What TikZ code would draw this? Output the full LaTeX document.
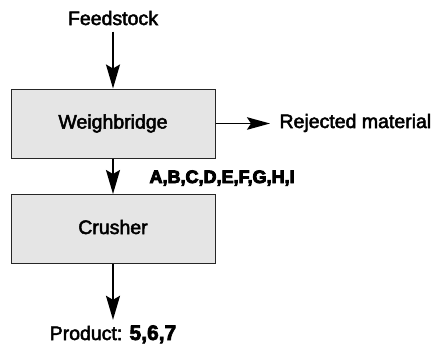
\documentclass[tikz,border=0pt]{standalone}
\usepackage{fontspec}
\setmainfont{Liberation Sans}
\usetikzlibrary{arrows.meta}
\definecolor{boxgray}{HTML}{E5E5E5}
% thicken glyphs by filling and stroking them
\newcommand{\thick}[2]{\special{pdf:code 2 Tr #1 w}#2\special{pdf:code 0 Tr 1 w}}
\begin{document}
\begin{tikzpicture}[x=1pt,y=-1pt,
  every node/.style={font=\fontsize{19.5}{23}\selectfont},
  unit/.style={draw=black!85,line width=1pt,fill=boxgray,minimum width=204pt,minimum height=69pt,inner sep=0pt,text height=14pt,text depth=4pt},
  flow/.style={line width=1.8pt,-{Stealth[length=24pt,width=14pt,inset=4pt]}},
  side/.style={line width=1.5pt,-{Stealth[length=23pt,width=12.5pt,inset=4pt]}},
  tag/.style={font=\fontsize{18}{22}\bfseries\selectfont}]
\useasboundingbox (0,0) rectangle (445,351);
\node[anchor=base] (feed) at (113,25) {\thick{0.5}{Feedstock}};
\node[unit] (wb) at (113,123.5) {\thick{0.5}{Weighbridge}};
\node[unit] (cr) at (113,229) {\thick{0.5}{Crusher}};
\node[anchor=base west] (rej) at (276,128) {\thick{0.5}{Rejected material}};
\node[tag,anchor=base west] (abc) at (146,183) {\thick{0.9}{A,B,C,D,E,F,G,H,I}};
\node[anchor=base] (prod) at (113,340) {\thick{0.5}{Product: }{\fontsize{21}{24}\bfseries\selectfont\thick{0.7}{5,6,7}}};
\draw[flow,shorten <=3pt] (feed) -- (wb);
\draw[side,shorten >=6pt] (wb.east) -- (wb.east -| rej.west);
\draw[flow] (wb) -- (cr);
\draw[flow,shorten >=2pt] (cr) -- (prod);
\end{tikzpicture}
\end{document}
